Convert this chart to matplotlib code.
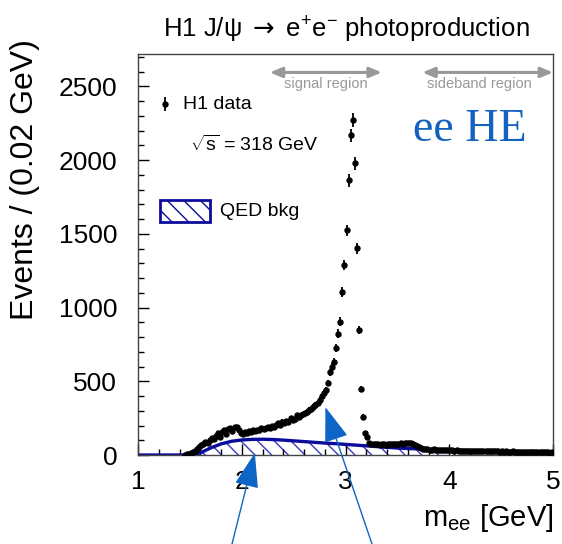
import numpy as np
import matplotlib
matplotlib.use("Agg")
import matplotlib.pyplot as plt
from matplotlib.patches import Rectangle
from matplotlib.ticker import MultipleLocator

plt.rcParams['font.family'] = ['Liberation Sans', 'DejaVu Sans']
plt.rcParams['mathtext.fontset'] = 'custom'
plt.rcParams['mathtext.rm'] = 'Liberation Sans'
plt.rcParams['mathtext.it'] = 'Liberation Sans:italic'
plt.rcParams['mathtext.sf'] = 'Liberation Sans'
plt.rcParams['mathtext.bf'] = 'DejaVu Sans'   # only used for the title arrow
plt.rcParams['hatch.linewidth'] = 1.0

# H1 data, events per 0.02 GeV bin, bins 1.00 - 5.00 GeV
bin_width = 0.02
counts = [
    0, 0, 0, 0, 0, 0, 0, 0, 0, 0,
    0, 0, 0, 0, 0, 0, 0, 0, 0, 0,
    0, 0, 3, 6, 10, 16, 22, 30, 40, 52,
    68, 75, 90, 82, 100, 113, 108, 130, 147, 125,
    158, 169, 145, 178, 185, 165, 192, 188, 170, 148,
    140, 155, 150, 160, 158, 170, 164, 172, 168, 180,
    178, 185, 192, 184, 196, 190, 203, 215, 205, 226,
    214, 230, 226, 248, 237, 245, 270, 260, 271, 275,
    282, 295, 305, 315, 327, 339, 350, 373, 398, 418,
    440, 488, 562, 598, 632, 723, 824, 903, 1106, 1290,
    1524, 1863, 2168, 2270, 1978, 1402, 847, 447, 260, 151,
    124, 81, 78, 74, 72, 76, 70, 74, 72, 70,
    75, 73, 72, 78, 74, 76, 80, 78, 83, 80,
    84, 79, 74, 70, 60, 52, 45, 42, 40, 38,
    37, 36, 38, 35, 34, 36, 33, 34, 32, 33,
    31, 32, 30, 31, 29, 30, 28, 29, 30, 27,
    28, 27, 29, 26, 27, 28, 25, 26, 27, 24,
    26, 25, 24, 25, 23, 24, 22, 24, 23, 22,
    24, 21, 22, 23, 21, 20, 22, 20, 21, 19,
    20, 21, 19, 18, 19, 18, 17, 18, 16, 17,
]

# QED background curve, read every 0.1 GeV
qed_mass = [1.0, 1.1, 1.2, 1.3, 1.4, 1.5, 1.55, 1.6, 1.7, 1.8, 1.9, 2.0, 2.1, 2.2,
            2.3, 2.4, 2.5, 2.6, 2.7, 2.8, 2.9, 3.0, 3.1, 3.2, 3.3, 3.4, 3.5,
            3.6, 3.7, 3.8, 3.9, 4.0, 4.1, 4.2, 4.3, 4.4, 4.5, 4.6, 4.7, 4.8,
            4.9, 5.0]
qed_bkg = [0, 0, 0, 0, 0, 0, 2, 14, 48, 75, 93, 102, 106, 107,
           105, 101, 96, 91, 86, 81, 77, 72, 67, 62, 57, 52, 47,
           44, 41, 38, 36, 34, 32, 30, 29, 27, 26, 24, 22, 20,
           18, 16]

regions = [(2.27, 3.35), (3.74, 5.0)]
region_names = ['signal region', 'sideband region']
region_label_x = [2.81, 4.29]

counts = np.array(counts, dtype=float)
mass = 1.0 + bin_width / 2 + bin_width * np.arange(len(counts))
keep = counts > 0

fig = plt.figure(figsize=(5.62, 5.44), dpi=100)
ax = fig.add_axes([0.2456, 0.1636, 0.7384, 0.7371])

line_blue = '#0c0c9c'
hatch_blue = '#3a3ac4'
plt.rcParams['hatch.color'] = hatch_blue

ax.fill_between(qed_mass, 0, qed_bkg, facecolor='none', edgecolor=hatch_blue,
                hatch='\\\\', linewidth=0, zorder=1)
ax.plot(qed_mass, qed_bkg, color=line_blue, lw=2.4, zorder=2)

ax.errorbar(mass[keep], counts[keep], yerr=np.sqrt(counts[keep]), xerr=bin_width / 2,
            fmt='o', ms=3.6, color='k', elinewidth=1.3, capsize=0, zorder=3)

ax.set_xlim(1, 5)
ax.set_ylim(0, 2720)
ax.xaxis.set_major_locator(MultipleLocator(1))
ax.xaxis.set_minor_locator(MultipleLocator(0.2))
ax.yaxis.set_major_locator(MultipleLocator(500))
ax.yaxis.set_minor_locator(MultipleLocator(100))
ax.tick_params(which='both', direction='in', top=False, right=False)
ax.tick_params(which='major', length=8, width=1, labelsize=19)
ax.tick_params(which='minor', length=4, width=1)
ax.tick_params(axis='x', which='major', pad=11)
ax.tick_params(axis='y', which='major', pad=15)
for sp in ax.spines.values():
    sp.set_color('#444444')
    sp.set_linewidth(1)

ax.set_ylabel('Events / (0.02 GeV)', fontsize=23)
ax.yaxis.set_label_coords(-0.236, 0.686)
ax.set_xlabel(r'm$_{\rm ee}$ [GeV]', fontsize=21, ha='right')
ax.xaxis.set_label_coords(1.0, -0.118)

fig.text(0.617, 1 - 30 / 544,
         'H1 J/\u03c8 $\\mathbf{\\rightarrow}$ e$^{+}$e$^{-}$ photoproduction',
         ha='center', va='center', fontsize=18.5)

# signal and sideband regions
grey = '#999999'
y_arr = 2595
for (lo, hi), name, lx in zip(regions, region_names, region_label_x):
    ax.annotate('', xy=(hi, y_arr), xytext=(lo, y_arr),
                arrowprops=dict(arrowstyle='<|-|>,head_length=0.6,head_width=0.25',
                                color=grey, lw=2.2, shrinkA=0, shrinkB=0,
                                mutation_scale=12),
                annotation_clip=False)
    ax.text(lx, 2515, name, color=grey, fontsize=10.5, ha='center', va='center')

# legend
ax.errorbar([0.065], [0.875], yerr=[0.018], xerr=[0.005], fmt='o', ms=3.6, color='k',
            elinewidth=1.3, capsize=0, transform=ax.transAxes)
ax.text(0.108, 0.875, 'H1 data', transform=ax.transAxes, fontsize=14, va='center')
ax.text(0.125, 0.773, r'$\sqrt{\mathrm{s}}$ = 318 GeV', transform=ax.transAxes,
        fontsize=14, va='center')
ax.add_patch(Rectangle((0.053, 0.581), 0.12, 0.055, transform=ax.transAxes,
                       facecolor='white', edgecolor=line_blue, lw=2, hatch='\\\\'))
ax.text(0.198, 0.608, 'QED bkg', transform=ax.transAxes, fontsize=14, va='center')

ax.text(0.80, 0.81, 'ee HE', transform=ax.transAxes, fontsize=33, color='#1462c0',
        family='Liberation Serif', ha='center', va='center')

# blue arrows coming from below the frame
arrow_blue = '#0d66c6'
for tip, tail in [((2.126, 14), (232, 0)), ((2.806, 325), (372, 0))]:
    ax.annotate('', xy=tip, xycoords='data', xytext=tail, textcoords='figure pixels',
                arrowprops=dict(arrowstyle='-|>,head_length=1.1,head_width=0.38',
                                color=arrow_blue, lw=1, shrinkA=0, shrinkB=0,
                                mutation_scale=20),
                annotation_clip=False, zorder=5)

fig.savefig('out.png', dpi=100)
